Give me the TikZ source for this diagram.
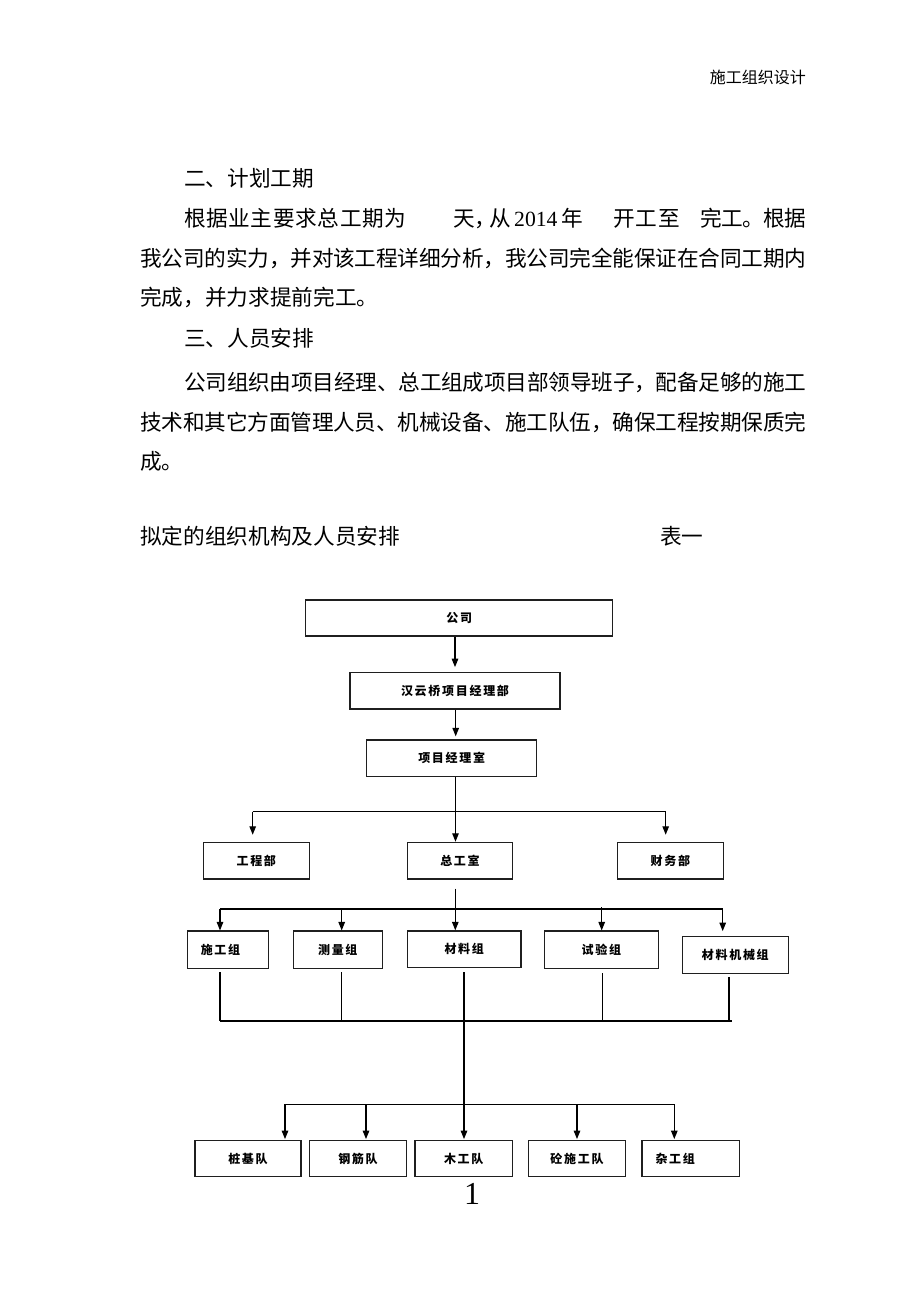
\documentclass[tikz,border=0pt]{standalone}
\usepackage{fontspec}
\newfontfamily\cjk{Noto Sans CJK SC}
\newfontfamily\serifnum{Liberation Serif}
\usetikzlibrary{arrows.meta}
\newcommand\jsep{\hskip 0pt plus 1fil minus 1fil}
\ExplSyntaxOn
\NewDocumentCommand\jline{mm}{\makebox[#1][s]{\tl_map_inline:nn{#2}{##1\jsep}\unskip}}
\NewDocumentCommand\spc{m}{\tl_map_inline:nn{#1}{##1\hspace{1.7pt}}\unskip}
\ExplSyntaxOff
\newcommand\bodyfont{\cjk\fontsize{21.65}{26}\selectfont}
\newcommand\boxfont{\cjk\bfseries\fontsize{12}{13}\selectfont}
\begin{document}
\begin{tikzpicture}[x=1pt,y=-1pt,
  txt/.style={inner sep=0pt, anchor=base west, font=\bodyfont},
  box/.style={draw=black!88, line width=1.2pt, inner sep=0pt, font=\boxfont},
  ln/.style={line width=1.2pt, black},
  arr/.style={ln, -{Triangle[length=8.5pt,width=6.5pt]}}]
\fill[white] (0,0) rectangle (920,1302);
\useasboundingbox (0,0) rectangle (920,1302);

% header
\node[inner sep=0pt, anchor=east, font=\cjk\fontsize{16}{18}\selectfont] (hdr) at (806,77) {施工组织设计};

% body text
\node[txt] (l1) at (184,186) {二、计划工期};
\node[txt] (l2a) at (184,226) {\jline{222pt}{根据业主要求总工期为}};
\node[txt] (l2b) at (453,226) {天，};
\node[txt] (l2c) at (489,226) {从};
\node[txt, font=\serifnum\fontsize{21.65}{26}\selectfont] (l2d) at (514,226) {2014};
\node[txt] (l2e) at (561,226) {年};
\node[txt] (l2f) at (613,226) {\jline{66.6pt}{开工至}};
\node[txt] (l2g) at (700,226) {\jline{106pt}{完工。根据}};
\node[txt] (l3) at (140,266) {\jline{666pt}{我公司的实力，并对该工程详细分析，我公司完全能保证在合同工期内}};
\node[txt] (l4) at (140,305) {完成，并力求提前完工。};
\node[txt] (l5) at (184,346) {三、人员安排};
\node[txt] (l6) at (184,390) {\jline{622pt}{公司组织由项目经理、总工组成项目部领导班子，配备足够的施工}};
\node[txt] (l7) at (140,430) {\jline{666pt}{技术和其它方面管理人员、机械设备、施工队伍，确保工程按期保质完}};
\node[txt] (l8) at (140,469) {成。};
\node[txt] (cap) at (140,544) {拟定的组织机构及人员安排};
\node[txt] (tab) at (660,544) {表一};

% boxes
\node[box, minimum width=307pt, minimum height=36pt] (gs) at (459.2,618) {\spc{公司}};
\node[box, minimum width=210pt, minimum height=36.3pt] (hy) at (455,690.9) {\spc{汉云桥项目经理部}};
\node[box, minimum width=170pt, minimum height=36.7pt] (xm) at (451.7,758.3) {\spc{项目经理室}};
\node[box, minimum width=106pt, minimum height=36.7pt] (gc) at (256.3,860.7) {\spc{工程部}};
\node[box, minimum width=105.4pt, minimum height=36.7pt] (zg) at (460,860.7) {\spc{总工室}};
\node[box, minimum width=106pt, minimum height=36.7pt] (cw) at (670.3,860.7) {\spc{财务部}};
\node[box, minimum width=81.4pt, minimum height=37.3pt] (sg) at (228,949.7) {\hspace*{-15pt}\spc{施工组}};
\node[box, minimum width=89pt, minimum height=37.3pt] (cl) at (337.8,949.7) {\spc{测量组}};
\node[box, minimum width=113.7pt, minimum height=36.7pt] (cz) at (464.2,949.3) {\spc{材料组}};
\node[box, minimum width=114pt, minimum height=37.3pt] (sy) at (601.3,949.7) {\spc{试验组}};
\node[box, minimum width=106pt, minimum height=36.6pt] (jx) at (735.3,955) {\spc{材料机械组}};
\node[box, minimum width=106pt, minimum height=36pt] (zj) at (248,1158.7) {\spc{桩基队}};
\node[box, minimum width=97.4pt, minimum height=36pt] (gj) at (358,1158.7) {\spc{钢筋队}};
\node[box, minimum width=97.3pt, minimum height=36pt] (mg) at (463.7,1158.7) {\spc{木工队}};
\node[box, minimum width=97.4pt, minimum height=36pt] (ts) at (577,1158.7) {\spc{砼施工队}};
\node[box, minimum width=97.3pt, minimum height=36pt] (zz) at (690.7,1158.7) {\hspace*{-31pt}\spc{杂工组}};

% page number
\node[inner sep=0pt, anchor=base, font=\serifnum\fontsize{32}{34}\selectfont] (pg) at (472,1204.5) {1};

% level 1
\draw[arr, shorten >=5pt] (gs.south -| hy) -- (hy.north);
\coordinate (a2) at (455.7,740);
\draw[arr, shorten >=3pt] (hy.south -| a2) -- (xm.north -| a2);
\coordinate (j1) at (455.5,811.7);
\coordinate (t1L) at (252.7,811.7);
\coordinate (t1R) at (665.7,811.7);
\draw[arr] (xm.south -| j1) -- (zg.north -| j1);
\draw[ln] (t1L) -- (t1R);
\draw[arr, shorten >=7pt] (t1L) -- (t1L |- gc.north);
\draw[arr, shorten >=7pt] (t1R) -- (t1R |- cw.north);

% level 2
\coordinate (j2) at (455.3,909);
\coordinate (t2L) at (220,909);
\coordinate (t2R) at (722.7,909);
\coordinate (b2) at (341.7,909);
\coordinate (b3) at (601.7,907);
\draw[arr, shorten <=9pt] (zg.south -| j2) -- (cz.north -| j2);
\draw[ln] (t2L) -- (t2R);
\draw[arr] (t2L) -- (t2L |- sg.north);
\draw[arr] (b2) -- (b2 |- cl.north);
\draw[arr] (b3) -- (b3 |- sy.north);
\draw[arr, shorten >=5pt] (t2R) -- (t2R |- jx.north);

% level 3 collector
\coordinate (u1) at (220,1021);
\coordinate (u2) at (341.8,1021);
\coordinate (u3) at (464,1021);
\coordinate (u4) at (602.7,1021);
\coordinate (u5) at (729,1021);
\coordinate (uR) at (731.8,1021);
\draw[ln] (u1) -- (uR);
\draw[ln, shorten <=3.5pt] (sg.south -| u1) -- (u1);
\draw[ln, shorten <=3.5pt] (cl.south -| u2) -- (u2);
\draw[ln, shorten <=4.5pt] (sy.south -| u4) -- (u4);
\draw[ln, shorten <=3pt] (jx.south -| u5) -- (u5);
\draw[arr, shorten <=4pt, shorten >=1pt] (cz.south -| u3) -- (mg.north -| u3);

% bottom distribution
\coordinate (v1) at (285,1104.3);
\coordinate (v2) at (366,1104.3);
\coordinate (v4) at (577,1104.3);
\coordinate (v5) at (674.3,1104.3);
\draw[ln] (v1) -- (v5);
\draw[arr, shorten >=1pt] (v1) -- (v1 |- zj.north);
\draw[arr, shorten >=1pt] (v2) -- (v2 |- gj.north);
\draw[arr, shorten >=1pt] (v4) -- (v4 |- ts.north);
\draw[arr, shorten >=1pt] (v5) -- (v5 |- zz.north);
\end{tikzpicture}
\end{document}
